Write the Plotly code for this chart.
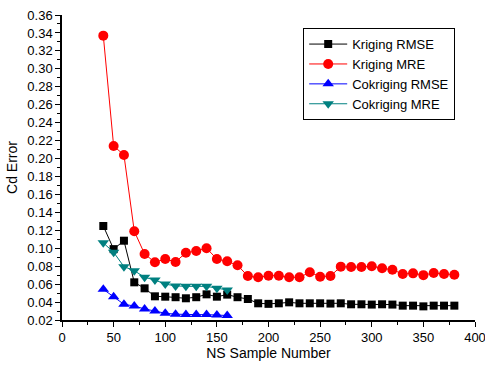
import plotly.graph_objects as go

x_krig = list(range(40, 390, 10))
krig_rmse = [0.1248, 0.099, 0.1084, 0.062, 0.0553, 0.0464, 0.046, 0.0454, 0.0442, 0.0454,
             0.0486, 0.046, 0.0483, 0.0454, 0.0434, 0.0386, 0.038, 0.0386, 0.0397, 0.0386,
             0.0386, 0.0386, 0.0383, 0.0386, 0.0375, 0.0375, 0.0372, 0.0375, 0.0372, 0.036,
             0.036, 0.0352, 0.036, 0.036, 0.036]
krig_mre = [0.337, 0.214, 0.204, 0.119, 0.0936, 0.0843, 0.088, 0.0847, 0.095, 0.0969,
            0.100, 0.088, 0.0854, 0.081, 0.069, 0.0676, 0.0694, 0.0694, 0.0676, 0.0676,
            0.0732, 0.0683, 0.069, 0.0795, 0.079, 0.079, 0.080, 0.0776, 0.0761, 0.0713,
            0.072, 0.070, 0.0724, 0.0713, 0.0705]
x_cok = list(range(40, 170, 10))
cok_rmse = [0.0542, 0.046, 0.0375, 0.0356, 0.0323, 0.030, 0.0275, 0.0265, 0.026, 0.026,
            0.026, 0.0255, 0.025]
cok_mre = [0.106, 0.0955, 0.0795, 0.075, 0.0676, 0.0646, 0.0600, 0.0580, 0.0575, 0.0575,
           0.0575, 0.0555, 0.0535]

font = "Liberation Sans"
fig = go.Figure()
fig.add_trace(go.Scatter(x=x_krig, y=krig_rmse, name="Kriging RMSE", mode="lines+markers",
                         line=dict(color="black", width=1),
                         marker=dict(symbol="square", size=8, color="black")))
fig.add_trace(go.Scatter(x=x_krig, y=krig_mre, name="Kriging MRE", mode="lines+markers",
                         line=dict(color="#ff0000", width=1),
                         marker=dict(symbol="circle", size=10, color="#ff0000")))
fig.add_trace(go.Scatter(x=x_cok, y=cok_rmse, name="Cokriging RMSE", mode="lines+markers",
                         line=dict(color="#0000ff", width=1),
                         marker=dict(symbol="triangle-up", size=10, color="#0000ff")))
fig.add_trace(go.Scatter(x=x_cok, y=cok_mre, name="Cokriging MRE", mode="lines+markers",
                         line=dict(color="#008080", width=1),
                         marker=dict(symbol="triangle-down", size=10, color="#008080")))

fig.update_layout(
    width=485, height=367,
    margin=dict(l=62, r=10, t=15, b=47),
    paper_bgcolor="white", plot_bgcolor="white",
    font=dict(family=font, size=13, color="black"),
    showlegend=True,
    legend=dict(x=0.584, y=0.957, xanchor="left", yanchor="top",
                bordercolor="black", borderwidth=1, bgcolor="white",
                font=dict(size=13, family=font), tracegroupgap=0,
                itemwidth=38),
)
fig.update_xaxes(range=[0, 400], dtick=50, tick0=0, showgrid=False, zeroline=False,
                 showline=True, linecolor="black", linewidth=1.5,
                 ticks="outside", ticklen=5, tickwidth=1, tickcolor="black",
                 ticklabeloverflow="allow", automargin=False,
                 minor=dict(dtick=25, ticks="outside", ticklen=3, tickcolor="black", showgrid=False),
                 title=dict(text="NS Sample Number", font=dict(size=14), standoff=4),
                 tickfont=dict(size=13))
fig.update_yaxes(range=[0.02, 0.36], dtick=0.02, tick0=0.02, showgrid=False, zeroline=False,
                 showline=True, linecolor="black", linewidth=1.5,
                 ticks="outside", ticklen=5, tickwidth=1, tickcolor="black",
                 tickformat=".2f", automargin=False,
                 minor=dict(dtick=0.01, ticks="outside", ticklen=3, tickcolor="black", showgrid=False),
                 title=dict(text="Cd Error", font=dict(size=14), standoff=6),
                 tickfont=dict(size=13))

fig.write_html("out.html")
